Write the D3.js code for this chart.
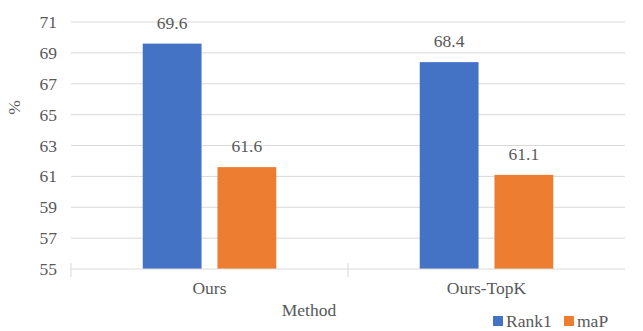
<!DOCTYPE html>
<html>
<head>
<meta charset="utf-8">
<script src="https://cdn.jsdelivr.net/npm/d3@7"></script>
<style>
  html, body { margin: 0; padding: 0; background: #fff; }
</style>
</head>
<body>
<svg id="chart" width="643" height="331"></svg>
<script>
// Methods compared and their scores (%)
const methods = ["Ours", "Ours-TopK"];
const seriesNames = ["Rank1", "maP"];
const rank1 = [69.6, 68.4];
const maP = [61.6, 61.1];
const yTicks = [55, 57, 59, 61, 63, 65, 67, 69, 71];
const colors = ["#4472C4", "#ED7D31"];

const FONT = "Liberation Serif";
const TEXT = "#595959";
const FS = 17.5;

const svg = d3.select("#chart");
const plotLeft = 71, plotRight = 625, plotTop = 22, plotBottom = 269;

const x = d3.scaleBand().domain(methods).range([plotLeft, plotRight]);
const xs = d3.scaleBand().domain(seriesNames).range([0, x.bandwidth()]).paddingInner(0.213).paddingOuter(0.96);
const y = d3.scaleLinear().domain([55, 71]).range([plotBottom, plotTop]);

// shared text styling
const styleText = sel => sel.attr("font-family", FONT).attr("font-size", FS).attr("fill", TEXT);

// horizontal gridlines
svg.append("g").selectAll("line").data(yTicks.slice(1)).join("line")
  .attr("x1", plotLeft).attr("x2", plotRight)
  .attr("y1", d => y(d)).attr("y2", d => y(d))
  .attr("stroke", "#d9d9d9").attr("stroke-width", 1);

// y tick labels
svg.append("g").selectAll("text").data(yTicks).join("text")
  .call(styleText)
  .attr("x", 57).attr("y", d => y(d) + 6)
  .attr("text-anchor", "end")
  .text(d => d);

// y axis title
svg.append("text")
  .call(styleText)
  .attr("transform", `translate(20,${(plotTop + plotBottom) / 2 - 38}) rotate(-90)`)
  .attr("text-anchor", "middle")
  .text("%");

// bars
const rows = methods.map((m, i) => ({ method: m, values: [rank1[i], maP[i]] }));
const groups = svg.append("g").selectAll("g").data(rows).join("g")
  .attr("transform", d => `translate(${x(d.method)},0)`);

groups.selectAll("rect").data(d => d.values.map((v, j) => ({ key: seriesNames[j], v, j })))
  .join("rect")
  .attr("x", d => xs(d.key))
  .attr("width", xs.bandwidth())
  .attr("y", d => y(d.v))
  .attr("height", d => y(55) - y(d.v))
  .attr("fill", d => colors[d.j]);

groups.selectAll("text").data(d => d.values.map((v, j) => ({ key: seriesNames[j], v })))
  .join("text")
  .call(styleText)
  .attr("x", d => xs(d.key) + xs.bandwidth() / 2)
  .attr("y", d => y(d.v) - 15)
  .attr("text-anchor", "middle")
  .text(d => d.v.toFixed(1));

// x axis line with category separators
svg.append("line")
  .attr("x1", plotLeft).attr("x2", plotRight)
  .attr("y1", plotBottom).attr("y2", plotBottom)
  .attr("stroke", "#d9d9d9").attr("stroke-width", 1);
const sepX = [plotLeft, ...methods.slice(1).map(m => x(m))];
svg.append("g").selectAll("line").data(sepX).join("line")
  .attr("x1", d => d).attr("x2", d => d)
  .attr("y1", plotBottom - 6).attr("y2", plotBottom + 8)
  .attr("stroke", "#d9d9d9").attr("stroke-width", 1);

// category labels
svg.append("g").selectAll("text").data(methods).join("text")
  .call(styleText)
  .attr("x", d => x(d) + x.bandwidth() / 2)
  .attr("y", 294)
  .attr("text-anchor", "middle")
  .text(d => d);

// x axis title
svg.append("text")
  .call(styleText)
  .attr("x", 309).attr("y", 316)
  .attr("text-anchor", "middle")
  .text("Method");

// legend
const legendX = [493, 564];
const legend = svg.append("g").selectAll("g").data(seriesNames).join("g")
  .attr("transform", (d, i) => `translate(${legendX[i]},316)`);
legend.append("rect").attr("width", 10).attr("height", 10).attr("fill", (d, i) => colors[i]);
legend.append("text").call(styleText).attr("x", 13).attr("y", 11).text(d => d);
</script>
</body>
</html>
